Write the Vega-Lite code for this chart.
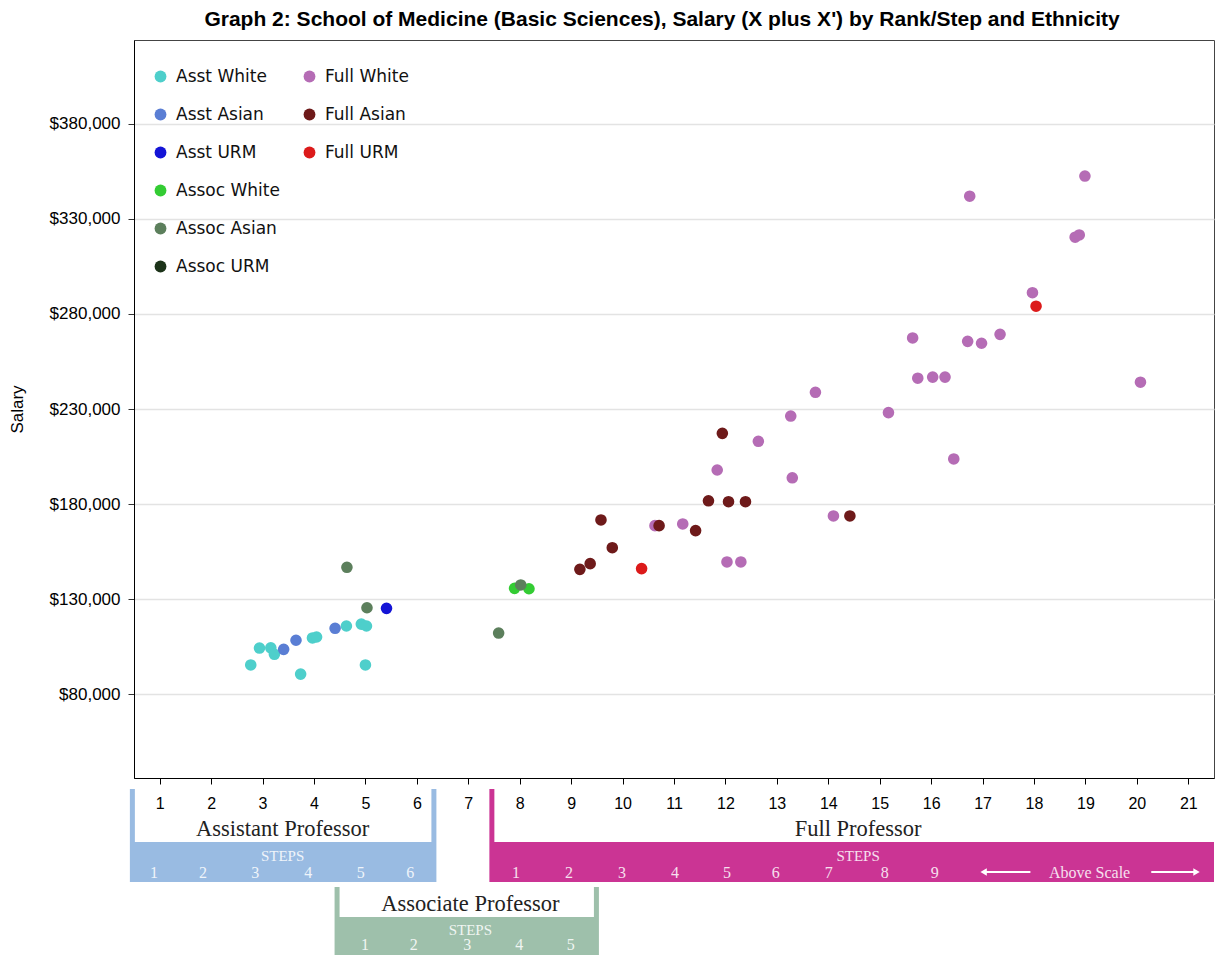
{
  "$schema": "https://vega.github.io/schema/vega-lite/v6.json",
  "padding": {"left": 7, "top": 8, "right": 0, "bottom": 0},
  "background": "white",
  "title": {"text": "Graph 2: School of Medicine (Basic Sciences), Salary (X plus X') by Rank/Step and Ethnicity", "font": "Liberation Sans", "fontSize": 21, "fontWeight": "bold", "color": "black", "anchor": "middle", "dx": 51, "offset": 10},
  "bounds": "flush",
  "spacing": 11,
  "config": {"font": "Liberation Sans", "view": {"stroke": null}},
  "resolve": {"scale": {"x": "independent", "y": "independent", "color": "independent", "shape": "independent"}},
  "datasets": {
    "pts": [
      {"group": "Asst White", "rank": "Asst", "step": 2.77, "salary": 95300},
      {"group": "Asst White", "rank": "Asst", "step": 2.94, "salary": 104200},
      {"group": "Asst White", "rank": "Asst", "step": 3.16, "salary": 104300},
      {"group": "Asst White", "rank": "Asst", "step": 3.23, "salary": 100900},
      {"group": "Asst White", "rank": "Asst", "step": 3.74, "salary": 90500},
      {"group": "Asst White", "rank": "Asst", "step": 3.97, "salary": 109500},
      {"group": "Asst White", "rank": "Asst", "step": 4.05, "salary": 110000},
      {"group": "Asst White", "rank": "Asst", "step": 4.63, "salary": 115800},
      {"group": "Asst White", "rank": "Asst", "step": 4.92, "salary": 116800},
      {"group": "Asst White", "rank": "Asst", "step": 5.02, "salary": 115800},
      {"group": "Asst White", "rank": "Asst", "step": 5.0, "salary": 95300},
      {"group": "Asst Asian", "rank": "Asst", "step": 3.41, "salary": 103500},
      {"group": "Asst Asian", "rank": "Asst", "step": 3.65, "salary": 108300},
      {"group": "Asst Asian", "rank": "Asst", "step": 4.41, "salary": 114600},
      {"group": "Asst URM", "rank": "Asst", "step": 5.41, "salary": 125100},
      {"group": "Assoc White", "rank": "Assoc", "step": 7.9, "salary": 135600},
      {"group": "Assoc White", "rank": "Assoc", "step": 8.18, "salary": 135400},
      {"group": "Assoc Asian", "rank": "Assoc", "step": 4.64, "salary": 146700},
      {"group": "Assoc Asian", "rank": "Assoc", "step": 5.03, "salary": 125400},
      {"group": "Assoc Asian", "rank": "Assoc", "step": 7.59, "salary": 112100},
      {"group": "Assoc Asian", "rank": "Assoc", "step": 8.02, "salary": 137400},
      {"group": "Full White", "rank": "Full", "step": 10.63, "salary": 168600},
      {"group": "Full White", "rank": "Full", "step": 11.17, "salary": 169500},
      {"group": "Full White", "rank": "Full", "step": 11.84, "salary": 197900},
      {"group": "Full White", "rank": "Full", "step": 12.03, "salary": 149500},
      {"group": "Full White", "rank": "Full", "step": 12.3, "salary": 149500},
      {"group": "Full White", "rank": "Full", "step": 12.64, "salary": 213000},
      {"group": "Full White", "rank": "Full", "step": 13.27, "salary": 226300},
      {"group": "Full White", "rank": "Full", "step": 13.3, "salary": 193800},
      {"group": "Full White", "rank": "Full", "step": 13.75, "salary": 238800},
      {"group": "Full White", "rank": "Full", "step": 14.1, "salary": 173700},
      {"group": "Full White", "rank": "Full", "step": 15.17, "salary": 228100},
      {"group": "Full White", "rank": "Full", "step": 15.64, "salary": 267400},
      {"group": "Full White", "rank": "Full", "step": 15.74, "salary": 246200},
      {"group": "Full White", "rank": "Full", "step": 16.03, "salary": 246800},
      {"group": "Full White", "rank": "Full", "step": 16.27, "salary": 246800},
      {"group": "Full White", "rank": "Full", "step": 16.44, "salary": 203700},
      {"group": "Full White", "rank": "Full", "step": 16.71, "salary": 265600},
      {"group": "Full White", "rank": "Full", "step": 16.75, "salary": 342000},
      {"group": "Full White", "rank": "Full", "step": 16.98, "salary": 264600},
      {"group": "Full White", "rank": "Full", "step": 17.34, "salary": 269300},
      {"group": "Full White", "rank": "Full", "step": 17.97, "salary": 291200},
      {"group": "Full White", "rank": "Full", "step": 18.8, "salary": 320400},
      {"group": "Full White", "rank": "Full", "step": 18.88, "salary": 321600},
      {"group": "Full White", "rank": "Full", "step": 18.99, "salary": 352600},
      {"group": "Full White", "rank": "Full", "step": 20.07, "salary": 244100},
      {"group": "Full Asian", "rank": "Full", "step": 9.17, "salary": 145600},
      {"group": "Full Asian", "rank": "Full", "step": 9.37, "salary": 148600},
      {"group": "Full Asian", "rank": "Full", "step": 9.58, "salary": 171600},
      {"group": "Full Asian", "rank": "Full", "step": 9.8, "salary": 157000},
      {"group": "Full Asian", "rank": "Full", "step": 10.71, "salary": 168600},
      {"group": "Full Asian", "rank": "Full", "step": 11.42, "salary": 166000},
      {"group": "Full Asian", "rank": "Full", "step": 11.67, "salary": 181700},
      {"group": "Full Asian", "rank": "Full", "step": 11.94, "salary": 217200},
      {"group": "Full Asian", "rank": "Full", "step": 12.06, "salary": 181200},
      {"group": "Full Asian", "rank": "Full", "step": 12.39, "salary": 181200},
      {"group": "Full Asian", "rank": "Full", "step": 14.42, "salary": 173700},
      {"group": "Full URM", "rank": "Full", "step": 10.37, "salary": 146000},
      {"group": "Full URM", "rank": "Full", "step": 18.04, "salary": 284100}
    ],
    "brackets": [
      {"rank": "Assistant Professor", "tier": 1, "x0": 0.42, "x1": 6.38, "mid": 3.39},
      {"rank": "Full Professor", "tier": 1, "x0": 7.41, "x1": 21.5, "mid": 14.58},
      {"rank": "Associate Professor", "tier": 2, "x0": 4.4, "x1": 9.54, "mid": 7.04}
    ],
    "steps": [
      {"tier": 1, "x": 0.89, "label": "1"},
      {"tier": 1, "x": 1.84, "label": "2"},
      {"tier": 1, "x": 2.86, "label": "3"},
      {"tier": 1, "x": 3.89, "label": "4"},
      {"tier": 1, "x": 4.91, "label": "5"},
      {"tier": 1, "x": 5.87, "label": "6"},
      {"tier": 1, "x": 7.93, "label": "1"},
      {"tier": 1, "x": 8.96, "label": "2"},
      {"tier": 1, "x": 9.99, "label": "3"},
      {"tier": 1, "x": 11.02, "label": "4"},
      {"tier": 1, "x": 12.03, "label": "5"},
      {"tier": 1, "x": 12.98, "label": "6"},
      {"tier": 1, "x": 14.01, "label": "7"},
      {"tier": 1, "x": 15.1, "label": "8"},
      {"tier": 1, "x": 16.07, "label": "9"},
      {"tier": 1, "x": 19.08, "label": "Above Scale"},
      {"tier": 2, "x": 4.99, "label": "1"},
      {"tier": 2, "x": 5.94, "label": "2"},
      {"tier": 2, "x": 6.98, "label": "3"},
      {"tier": 2, "x": 7.99, "label": "4"},
      {"tier": 2, "x": 8.99, "label": "5"}
    ],
    "arrows": [
      {"tier": 1, "a": 17.02, "b": 17.93, "head": 17.02, "dir": "left"},
      {"tier": 1, "a": 20.28, "b": 21.16, "head": 21.16, "dir": "right"}
    ]
  },
  "vconcat": [
    {
      "width": 1080,
      "height": 738,
      "view": {"stroke": "#444", "strokeWidth": 1},
      "data": {"name": "pts"},
      "encoding": {
        "x": {"field": "step", "type": "quantitative", "scale": {"domain": [0.5, 21.5], "nice": false, "zero": false},
          "axis": {"values": [1,2,3,4,5,6,7,8,9,10,11,12,13,14,15,16,17,18,19,20,21], "title": null, "grid": false, "tickSize": 6, "tickColor": "black", "domainColor": "black", "labelFontSize": 16, "labelColor": "black", "labelPadding": 11, "labelFont": "Liberation Sans", "labelFlush": false}},
        "y": {"field": "salary", "type": "quantitative", "scale": {"domain": [35800, 424200], "nice": false, "zero": false},
          "axis": {"values": [80000,130000,180000,230000,280000,330000,380000], "format": "$,.0f", "title": "Salary", "titleFont": "Liberation Sans", "titleFontSize": 17, "titleFontWeight": "normal", "titleColor": "black", "titlePadding": 23, "grid": true, "gridColor": "#e3e3e3", "gridWidth": 1.5, "tickSize": 6, "tickColor": "#333", "domainColor": "black", "labelFontSize": 17, "labelColor": "black", "labelPadding": 8, "labelFont": "Liberation Sans"}}
      },
      "layer": [
        {
          "transform": [{"filter": "datum.rank != 'Full'"}],
          "mark": {"type": "circle", "size": 135, "opacity": 1},
          "encoding": {
            "color": {"field": "group", "type": "nominal",
              "scale": {"domain": ["Asst White","Asst Asian","Asst URM","Assoc White","Assoc Asian","Assoc URM"], "range": ["#4ECFCB","#5A7ED4","#1414D6","#33CC33","#5C7F5C","#1C3319"]},
              "legend": {"orient": "none", "legendX": 18, "legendY": 28, "title": null, "labelFont": "DejaVu Sans", "labelFontSize": 17, "labelColor": "#111", "symbolType": "circle", "symbolSize": 140, "rowPadding": 20, "labelOffset": 7, "symbolStrokeWidth": 0,
                "encode": {"symbols": {"update": {"fill": {"signal": "datum.value == 'Asst White' ? '#86D4DF' : datum.value == 'Asst Asian' ? '#72A3DA' : datum.value == 'Asst URM' ? '#3A56A6' : datum.value == 'Assoc White' ? '#7AC943' : datum.value == 'Assoc Asian' ? '#74A374' : '#1C3319'"}, "opacity": {"value": 1}}}}}}
          }
        },
        {
          "transform": [{"filter": "datum.rank == 'Full'"}],
          "mark": {"type": "circle", "size": 135, "opacity": 1},
          "encoding": {
            "color": {"field": "group", "type": "nominal",
              "scale": {"domain": ["Full White","Full Asian","Full URM"], "range": ["#B56CB5","#6E1A1A","#DC1A1A"]},
              "legend": {"orient": "none", "legendX": 167, "legendY": 28, "title": null, "labelFont": "DejaVu Sans", "labelFontSize": 17, "labelColor": "#111", "symbolType": "circle", "symbolSize": 140, "rowPadding": 20, "labelOffset": 7, "symbolStrokeWidth": 0,
                "encode": {"symbols": {"update": {"fill": {"signal": "datum.value == 'Full White' ? '#CB78B6' : datum.value == 'Full Asian' ? '#6E1215' : '#EB2129'"}, "opacity": {"value": 1}}}}}}
          }
        }
      ],
      "resolve": {"scale": {"color": "independent"}}
    },
    {
      "width": 1080,
      "height": 166,
      "layer": [
        {
          "data": {"name": "brackets"},
          "transform": [{"filter": "datum.tier == 1"}],
          "mark": {"type": "rect", "yOffset": 53, "y2Offset": 93},
          "encoding": {
            "x": {"field": "x0", "type": "quantitative", "scale": {"domain": [0.5, 21.5], "nice": false, "zero": false}, "axis": null},
            "x2": {"field": "x1"},
            "y": {"field": "tier", "type": "quantitative", "scale": {"domain": [1, 2.694], "reverse": true, "nice": false, "zero": false}, "axis": null},
            "y2": {"field": "tier"},
            "color": {"field": "rank", "type": "nominal", "scale": {"domain": ["Assistant Professor","Associate Professor","Full Professor"], "range": ["#99BBE2","#9EC0AB","#CB3494"]}, "legend": null}
          }
        },
        {
          "data": {"name": "brackets"},
          "transform": [{"filter": "datum.tier == 2"}],
          "mark": {"type": "rect", "yOffset": 30, "y2Offset": 70},
          "encoding": {
            "x": {"field": "x0", "type": "quantitative", "axis": null},
            "x2": {"field": "x1"},
            "y": {"field": "tier", "type": "quantitative", "axis": null},
            "y2": {"field": "tier"},
            "color": {"field": "rank", "type": "nominal", "legend": null}
          }
        },
        {
          "data": {"name": "brackets"},
          "transform": [{"filter": "datum.tier == 1"}],
          "mark": {"type": "rule", "strokeWidth": 5, "xOffset": 2.5, "yOffset": 0, "y2Offset": 53},
          "encoding": {
            "x": {"field": "x0", "type": "quantitative", "axis": null},
            "y": {"field": "tier", "type": "quantitative", "axis": null},
            "y2": {"field": "tier"},
            "color": {"field": "rank", "type": "nominal", "legend": null}
          }
        },
        {
          "data": {"name": "brackets"},
          "transform": [{"filter": "datum.tier == 1 && datum.rank != 'Full Professor'"}],
          "mark": {"type": "rule", "strokeWidth": 5, "xOffset": -2.5, "yOffset": 0, "y2Offset": 53},
          "encoding": {
            "x": {"field": "x1", "type": "quantitative", "axis": null},
            "y": {"field": "tier", "type": "quantitative", "axis": null},
            "y2": {"field": "tier"},
            "color": {"field": "rank", "type": "nominal", "legend": null}
          }
        },
        {
          "data": {"name": "brackets"},
          "transform": [{"filter": "datum.tier == 2"}],
          "mark": {"type": "rule", "strokeWidth": 5, "xOffset": 2.5, "yOffset": 0, "y2Offset": 30},
          "encoding": {
            "x": {"field": "x0", "type": "quantitative", "axis": null},
            "y": {"field": "tier", "type": "quantitative", "axis": null},
            "y2": {"field": "tier"},
            "color": {"field": "rank", "type": "nominal", "legend": null}
          }
        },
        {
          "data": {"name": "brackets"},
          "transform": [{"filter": "datum.tier == 2"}],
          "mark": {"type": "rule", "strokeWidth": 5, "xOffset": -2.5, "yOffset": 0, "y2Offset": 30},
          "encoding": {
            "x": {"field": "x1", "type": "quantitative", "axis": null},
            "y": {"field": "tier", "type": "quantitative", "axis": null},
            "y2": {"field": "tier"},
            "color": {"field": "rank", "type": "nominal", "legend": null}
          }
        },
        {
          "data": {"name": "brackets"},
          "transform": [{"filter": "datum.tier == 1"}],
          "mark": {"type": "text", "yOffset": 47, "baseline": "alphabetic", "align": "center", "font": "Liberation Serif", "fontSize": 22.5, "color": "#222"},
          "encoding": {
            "x": {"field": "mid", "type": "quantitative", "axis": null},
            "y": {"field": "tier", "type": "quantitative", "axis": null},
            "text": {"field": "rank"}
          }
        },
        {
          "data": {"name": "brackets"},
          "transform": [{"filter": "datum.tier == 2"}],
          "mark": {"type": "text", "yOffset": 24, "baseline": "alphabetic", "align": "center", "font": "Liberation Serif", "fontSize": 22.5, "color": "#222"},
          "encoding": {
            "x": {"field": "mid", "type": "quantitative", "axis": null},
            "y": {"field": "tier", "type": "quantitative", "axis": null},
            "text": {"field": "rank"}
          }
        },
        {
          "data": {"name": "brackets"},
          "transform": [{"filter": "datum.tier == 1"}],
          "mark": {"type": "text", "yOffset": 72, "baseline": "alphabetic", "align": "center", "font": "Liberation Serif", "fontSize": 15, "color": "white", "opacity": 0.85},
          "encoding": {
            "x": {"field": "mid", "type": "quantitative", "axis": null},
            "y": {"field": "tier", "type": "quantitative", "axis": null},
            "text": {"value": "STEPS"}
          }
        },
        {
          "data": {"name": "brackets"},
          "transform": [{"filter": "datum.tier == 2"}],
          "mark": {"type": "text", "yOffset": 48, "baseline": "alphabetic", "align": "center", "font": "Liberation Serif", "fontSize": 15, "color": "white", "opacity": 0.85},
          "encoding": {
            "x": {"field": "mid", "type": "quantitative", "axis": null},
            "y": {"field": "tier", "type": "quantitative", "axis": null},
            "text": {"value": "STEPS"}
          }
        },
        {
          "data": {"name": "steps"},
          "transform": [{"filter": "datum.tier == 1"}],
          "mark": {"type": "text", "yOffset": 89, "baseline": "alphabetic", "align": "center", "font": "Liberation Serif", "fontSize": 16, "color": "white", "opacity": 0.85},
          "encoding": {
            "x": {"field": "x", "type": "quantitative", "axis": null},
            "y": {"field": "tier", "type": "quantitative", "axis": null},
            "text": {"field": "label"}
          }
        },
        {
          "data": {"name": "steps"},
          "transform": [{"filter": "datum.tier == 2"}],
          "mark": {"type": "text", "yOffset": 63, "baseline": "alphabetic", "align": "center", "font": "Liberation Serif", "fontSize": 16, "color": "white", "opacity": 0.85},
          "encoding": {
            "x": {"field": "x", "type": "quantitative", "axis": null},
            "y": {"field": "tier", "type": "quantitative", "axis": null},
            "text": {"field": "label"}
          }
        },
        {
          "data": {"name": "arrows"},
          "mark": {"type": "rule", "strokeWidth": 2, "color": "white", "yOffset": 83},
          "encoding": {
            "x": {"field": "a", "type": "quantitative", "axis": null},
            "x2": {"field": "b"},
            "y": {"field": "tier", "type": "quantitative", "axis": null}
          }
        },
        {
          "data": {"name": "arrows"},
          "mark": {"type": "point", "filled": true, "size": 55, "color": "white", "opacity": 1, "yOffset": 83},
          "encoding": {
            "x": {"field": "head", "type": "quantitative", "axis": null},
            "y": {"field": "tier", "type": "quantitative", "axis": null},
            "shape": {"field": "dir", "type": "nominal", "scale": {"domain": ["left", "right"], "range": ["triangle-left", "triangle-right"]}, "legend": null}
          }
        }
      ]
    }
  ]
}
